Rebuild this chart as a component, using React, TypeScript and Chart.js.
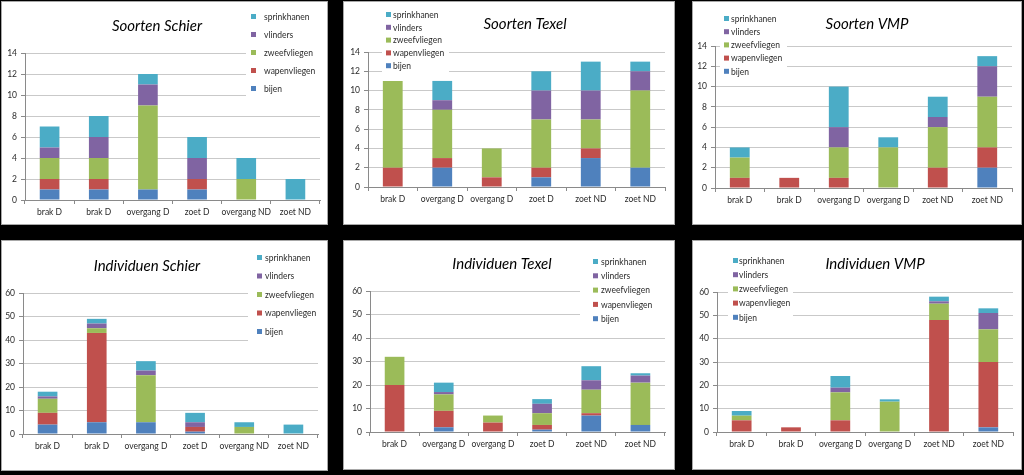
import React, { useEffect, useRef } from "react";
import { Chart, registerables } from "chart.js";

Chart.register(...registerables);

// ---------- data ----------
const seriesNames = ["bijen", "wapenvliegen", "zweefvliegen", "vlinders", "sprinkhanen"];
const seriesColors = ["#4F81BD", "#C0504D", "#9BBB59", "#8064A2", "#4BACC6"];

const catsSchier = ["brak D", "brak D", "overgang D", "zoet D", "overgang ND", "zoet ND"];
const catsTexel = ["brak D", "overgang D", "overgang D", "zoet D", "zoet ND", "zoet ND"];
const catsVMP = ["brak D", "brak D", "overgang D", "overgang D", "zoet ND", "zoet ND"];

// Soorten (species counts)
const soortenSchierBijen = [1, 1, 1, 1, 0, 0];
const soortenSchierWapen = [1, 1, 0, 1, 0, 0];
const soortenSchierZweef = [2, 2, 8, 0, 2, 0];
const soortenSchierVlind = [1, 2, 2, 2, 0, 0];
const soortenSchierSprink = [2, 2, 1, 2, 2, 2];

const soortenTexelBijen = [0, 2, 0, 1, 3, 2];
const soortenTexelWapen = [2, 1, 1, 1, 1, 0];
const soortenTexelZweef = [9, 5, 3, 5, 3, 8];
const soortenTexelVlind = [0, 1, 0, 3, 3, 2];
const soortenTexelSprink = [0, 2, 0, 2, 3, 1];

const soortenVMPBijen = [0, 0, 0, 0, 0, 2];
const soortenVMPWapen = [1, 1, 1, 0, 2, 2];
const soortenVMPZweef = [2, 0, 3, 4, 4, 5];
const soortenVMPVlind = [0, 0, 2, 0, 1, 3];
const soortenVMPSprink = [1, 0, 4, 1, 2, 1];

// Individuen (individual counts)
const indivSchierBijen = [4, 5, 5, 1, 0, 0];
const indivSchierWapen = [5, 38, 0, 2, 0, 0];
const indivSchierZweef = [6, 2, 20, 0, 3, 0];
const indivSchierVlind = [1, 2, 2, 2, 0, 0];
const indivSchierSprink = [2, 2, 4, 4, 2, 4];

const indivTexelBijen = [0, 2, 0, 1, 7, 3];
const indivTexelWapen = [20, 7, 4, 2, 1, 0];
const indivTexelZweef = [12, 7, 3, 5, 10, 18];
const indivTexelVlind = [0, 1, 0, 4, 4, 3];
const indivTexelSprink = [0, 4, 0, 2, 6, 1];

const indivVMPBijen = [0, 0, 0, 0, 0, 2];
const indivVMPWapen = [5, 2, 5, 0, 48, 28];
const indivVMPZweef = [2, 0, 12, 13, 7, 14];
const indivVMPVlind = [0, 0, 2, 0, 1, 7];
const indivVMPSprink = [2, 0, 5, 1, 2, 2];

const soortenTicks = { max: 14, step: 2 };
const indivTicks = { max: 60, step: 10 };

// ---------- layout (page coordinates) ----------
type Panel = {
  title: string;
  cats: string[];
  series: number[][];
  axis: { max: number; step: number };
  box: { x: number; y: number; w: number; h: number };
  area: { l: number; t: number; r: number; b: number };
  titlePos: { x: number; y: number };
  legend: { x0: number; y0: number; x1: number; y1: number; sqX: number; textX: number; firstY: number; gap: number };
};

const panels: Panel[] = [
  {
    title: "Soorten Schier",
    cats: catsSchier,
    series: [soortenSchierBijen, soortenSchierWapen, soortenSchierZweef, soortenSchierVlind, soortenSchierSprink],
    axis: soortenTicks,
    box: { x: 1, y: 1, w: 327, h: 224 },
    area: { l: 25, t: 53, r: 320, b: 200 },
    titlePos: { x: 157, y: 26 },
    legend: { x0: 246, y0: 6, x1: 322, y1: 100, sqX: 251, textX: 264, firstY: 17, gap: 18 },
  },
  {
    title: "Soorten Texel",
    cats: catsTexel,
    series: [soortenTexelBijen, soortenTexelWapen, soortenTexelZweef, soortenTexelVlind, soortenTexelSprink],
    axis: soortenTicks,
    box: { x: 343, y: 1, w: 332, h: 224 },
    area: { l: 368, t: 52, r: 665, b: 187 },
    titlePos: { x: 525, y: 24 },
    legend: { x0: 382, y0: 8, x1: 449, y1: 72, sqX: 386, textX: 393, firstY: 15, gap: 12.8 },
  },
  {
    title: "Soorten VMP",
    cats: catsVMP,
    series: [soortenVMPBijen, soortenVMPWapen, soortenVMPZweef, soortenVMPVlind, soortenVMPSprink],
    axis: soortenTicks,
    box: { x: 692, y: 1, w: 330, h: 224 },
    area: { l: 715, t: 46, r: 1012, b: 188 },
    titlePos: { x: 867, y: 24 },
    legend: { x0: 720, y0: 12, x1: 787, y1: 78, sqX: 724, textX: 731, firstY: 19, gap: 13.2 },
  },
  {
    title: "Individuen Schier",
    cats: catsSchier,
    series: [indivSchierBijen, indivSchierWapen, indivSchierZweef, indivSchierVlind, indivSchierSprink],
    axis: indivTicks,
    box: { x: 1, y: 240, w: 327, h: 231 },
    area: { l: 23, t: 293, r: 318, b: 434 },
    titlePos: { x: 147, y: 266 },
    legend: { x0: 248, y0: 248, x1: 320, y1: 342, sqX: 257, textX: 265, firstY: 258, gap: 18.5 },
  },
  {
    title: "Individuen Texel",
    cats: catsTexel,
    series: [indivTexelBijen, indivTexelWapen, indivTexelZweef, indivTexelVlind, indivTexelSprink],
    axis: indivTicks,
    box: { x: 343, y: 240, w: 332, h: 230 },
    area: { l: 370, t: 291, r: 665, b: 432 },
    titlePos: { x: 502, y: 264 },
    legend: { x0: 580, y0: 254, x1: 665, y1: 327, sqX: 593, textX: 601, firstY: 262, gap: 14.3 },
  },
  {
    title: "Individuen VMP",
    cats: catsVMP,
    series: [indivVMPBijen, indivVMPWapen, indivVMPZweef, indivVMPVlind, indivVMPSprink],
    axis: indivTicks,
    box: { x: 692, y: 240, w: 330, h: 230 },
    area: { l: 717, t: 292, r: 1013, b: 432 },
    titlePos: { x: 875, y: 264 },
    legend: { x0: 728, y0: 253, x1: 793, y1: 325, sqX: 733, textX: 739, firstY: 261, gap: 14.2 },
  },
];

const FONT = "Lato, 'Open Sans', sans-serif";
const GRID = "#C9C9C9";
const AXIS = "#8A8A8A";
const TEXT = "#2b2b2b";
const XH = 20;

function PanelChart({ p }: { p: Panel }) {
  const ref = useRef<HTMLCanvasElement | null>(null);
  useEffect(() => {
    const canvas = ref.current;
    if (!canvas) return;
    const ox = p.box.x + 1;
    const oy = p.box.y + 1;
    const cw = p.box.w - 2;
    const ch = p.box.h - 2;
    const relL = p.area.l - ox;
    const relR = p.area.r - ox;
    const relT = p.area.t - oy;
    const relB = p.area.b - oy;
    const lg = p.legend;

    const deco = {
      id: "deco",
      beforeDatasetsDraw(chart: any) {
        const ctx = chart.ctx;
        ctx.save();
        ctx.fillStyle = "#ffffff";
        ctx.fillRect(lg.x0 - ox, lg.y0 - oy, lg.x1 - lg.x0, lg.y1 - lg.y0);
        ctx.restore();
      },
      afterDraw(chart: any) {
        const ctx = chart.ctx;
        ctx.save();
        ctx.fillStyle = "#000";
        ctx.font = `italic 15px ${FONT}`;
        ctx.textAlign = "center";
        ctx.textBaseline = "middle";
        ctx.fillText(p.title, p.titlePos.x - ox, p.titlePos.y - oy);
        ctx.font = `8.5px ${FONT}`;
        ctx.textAlign = "left";
        const ds = chart.data.datasets;
        for (let i = 0; i < ds.length; i++) {
          const d = ds[ds.length - 1 - i];
          const y = lg.firstY + i * lg.gap - oy;
          ctx.fillStyle = d.backgroundColor;
          ctx.fillRect(lg.sqX - ox, y - 3, 5, 5);
          ctx.fillStyle = TEXT;
          ctx.fillText(d.label, lg.textX - ox, y);
        }
        ctx.restore();
      },
    };

    const chart = new Chart(canvas, {
      type: "bar",
      data: {
        labels: p.cats,
        datasets: p.series.map((vals, i) => ({
          label: seriesNames[i],
          data: vals,
          backgroundColor: seriesColors[i],
          borderWidth: 0,
          categoryPercentage: 0.4,
          barPercentage: 1,
        })),
      },
      options: {
        animation: false,
        responsive: false,
        maintainAspectRatio: false,
        layout: {
          padding: { left: 0, right: cw - relR, top: relT, bottom: ch - relB - XH },
        },
        plugins: { legend: { display: false }, title: { display: false }, tooltip: { enabled: false } },
        scales: {
          x: {
            stacked: true,
            afterFit: (s: any) => {
              s.height = XH;
            },
            grid: { display: true, drawOnChartArea: false, drawTicks: true, tickLength: 4, color: AXIS, offset: true },
            border: { display: true, color: AXIS },
            ticks: { font: { family: FONT, size: 8.5 }, color: TEXT, padding: 3, maxRotation: 0, autoSkip: false },
          },
          y: {
            stacked: true,
            min: 0,
            max: p.axis.max,
            afterFit: (s: any) => {
              s.width = relL;
            },
            ticks: { stepSize: p.axis.step, font: { family: FONT, size: 8.5 }, color: TEXT, padding: 4 },
            grid: { color: GRID, tickLength: 4, tickColor: AXIS },
            border: { display: true, color: AXIS },
          },
        },
      },
      plugins: [deco],
    });
    return () => chart.destroy();
  }, [p]);

  return (
    <div
      style={{
        position: "absolute",
        left: p.box.x,
        top: p.box.y,
        width: p.box.w,
        height: p.box.h,
        boxSizing: "border-box",
        border: "1px solid #a8a8a8",
        background: "#ffffff",
      }}
    >
      <canvas ref={ref} width={p.box.w - 2} height={p.box.h - 2} style={{ display: "block" }} />
    </div>
  );
}

export default function App() {
  return (
    <div style={{ position: "absolute", left: 0, top: 0, width: 1024, height: 475, background: "#000", overflow: "hidden" }}>
      {panels.map((p, i) => (
        <PanelChart key={i} p={p} />
      ))}
    </div>
  );
}
